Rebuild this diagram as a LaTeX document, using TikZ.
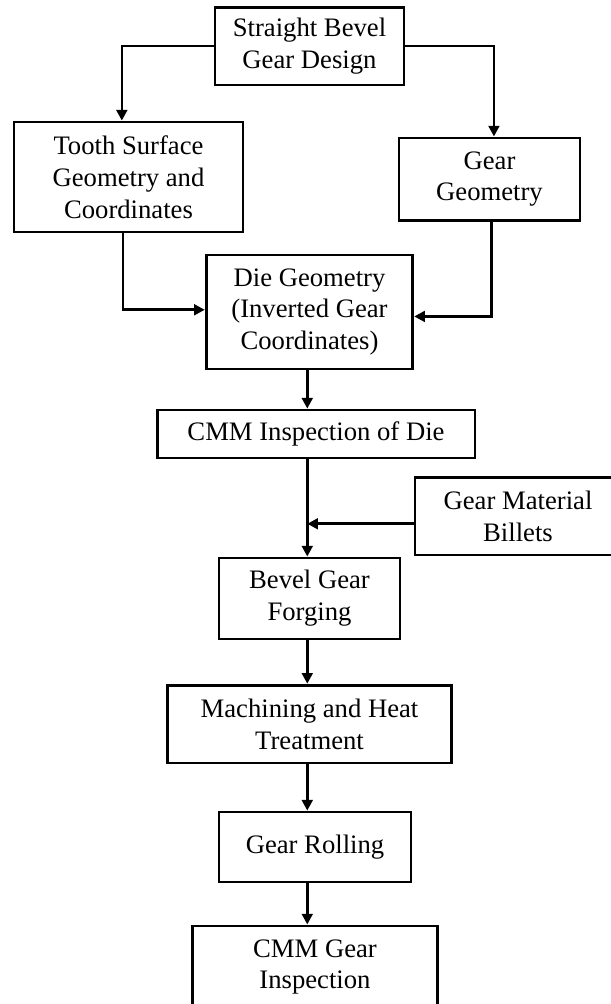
\documentclass[tikz,border=0pt]{standalone}
\usepackage{fontspec}
\setmainfont{Liberation Serif}
\usetikzlibrary{arrows.meta}
\tikzset{
    blk/.style={draw, line width=1.25pt, align=center, inner sep=0pt,
        font=\fontsize{12}{14.3}\selectfont},
    arr/.style={line width=1.2pt, -{Triangle[length=4.8pt,width=4.8pt]}}
}
\begin{document}
\begin{tikzpicture}[x=0.45pt, y=-0.45pt]
    \useasboundingbox (0,0) rectangle (611,1004);
    \node[blk, minimum width=85pt, minimum height=35pt] (sb) at (309.5,46) {Straight Bevel\\Gear Design};
    \node[blk, minimum width=103pt, minimum height=49.5pt] (ts) at (128.5,177) {Tooth Surface\\Geometry and\\Coordinates};
    \node[blk, minimum width=81.5pt, minimum height=37pt] (gg) at (489.5,179) {Gear\\Geometry};
    \node[blk, minimum width=93pt, minimum height=51.3pt] (dg) at (309.5,312) {Die Geometry\\(Inverted Gear\\Coordinates)};
    \node[blk, minimum width=143pt, minimum height=21.6pt] (ci) at (316,434) {CMM Inspection of Die};
    \node[blk, minimum width=92.7pt, minimum height=35pt] (gm) at (518,516) {Gear Material\\Billets};
    \node[blk, minimum width=81.5pt, minimum height=36.5pt] (bf) at (309.5,598.5) {Bevel Gear\\Forging};
    \node[blk, minimum width=128pt, minimum height=35pt] (mh) at (309.5,724) {Machining and Heat\\Treatment};
    \node[blk, minimum width=86.4pt, minimum height=31.5pt] (gr) at (315,847) {Gear Rolling};
    \node[blk, minimum width=110pt, minimum height=37pt] (cg) at (315,967) {CMM Gear\\Inspection};

    \draw[arr] (sb.west) -| ([xshift=-3pt]ts.north);
    \draw[arr] (sb.east) -| ([xshift=2pt]gg.north);
    \draw[arr] ([xshift=-2.5pt]ts.south) |- ([yshift=1pt]dg.west);
    \draw[arr] ([xshift=1pt]gg.south) |- ([yshift=-2pt]dg.east);
    \draw[arr] ([xshift=-1pt]dg.south) -- ([xshift=-1pt]dg.south |- ci.north);
    \draw[arr] ([xshift=-1pt]dg.south |- ci.south) -- ([xshift=-1pt]bf.north);
    \draw[arr] ([yshift=-3.5pt]gm.west) -- ([xshift=-1pt,yshift=-3.5pt]gm.west -| bf.north);
    \draw[arr] ([xshift=-1pt]bf.south) -- ([xshift=-1pt]mh.north);
    \draw[arr] ([xshift=-1pt]mh.south) -- ([xshift=-1pt]mh.south |- gr.north);
    \draw[arr] ([xshift=-1pt]mh.south |- gr.south) -- ([xshift=-1pt]mh.south |- cg.north);
\end{tikzpicture}
\end{document}
